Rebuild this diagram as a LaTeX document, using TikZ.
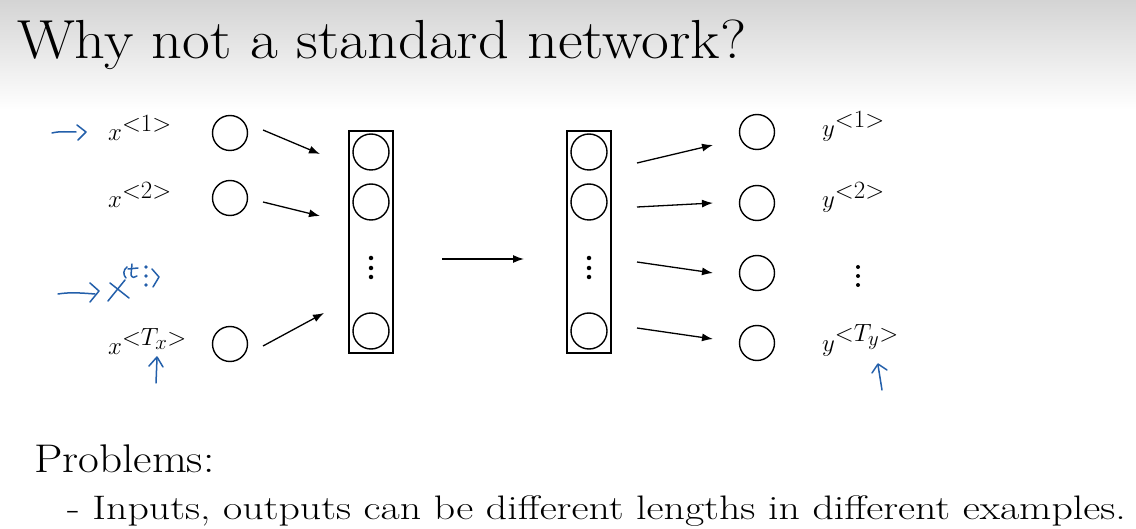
\documentclass[tikz,border=0pt]{standalone}
\usepackage{graphicx}
\usetikzlibrary{arrows.meta}
\DeclareMathSizes{35}{35}{26}{20}
\definecolor{headgray}{RGB}{212,212,212}
\definecolor{ink}{RGB}{35,95,170}
\begin{document}
\begin{tikzpicture}[x=1pt,y=-1pt,
  unit/.style={circle,draw,line width=1.4pt,minimum size=35pt,inner sep=0pt},
  layer/.style={draw,line width=1.6pt},
  conn/.style={line width=1.3pt,-{Latex[length=11pt,width=8pt]}},
  lbl/.style={anchor=base west,inner sep=0pt,font=\fontsize{35}{40}\selectfont},
  hand/.style={draw=ink,line width=1.5pt,line cap=round,line join=round},
  dotv/.style={circle,fill,inner sep=0pt,minimum size=4.5pt}]
\useasboundingbox (0,0) rectangle (1136,529);
\fill[white] (0,0) rectangle (1136,529);
\shade[top color=headgray,bottom color=white] (0,0) rectangle (1136,110);

% title
\node[anchor=base west,inner sep=0pt,font=\fontsize{55}{60}\selectfont] (title) at (17,59) {\scalebox{1.1}[1]{Why not a standard network?}};

% input labels and units
\node[lbl] (x1) at (108,141) {$x^{<1>}$};
\node[lbl] (x2) at (108,208) {$x^{<2>}$};
\node[lbl] (xT) at (108,355) {$x^{<T_x>}$};
\node[unit] (i1) at (230,133) {};
\node[unit] (i2) at (230,198) {};
\node[unit] (i3) at (230,344) {};

% hidden layers
\node[layer,minimum width=44pt,minimum height=222pt,inner sep=0pt] (L) at (371,242) {};
\node[layer,minimum width=44pt,minimum height=222pt,inner sep=0pt] (R) at (589,242) {};
\node[unit,minimum size=36pt] (l1) at (371,152) {};
\node[unit,minimum size=36pt] (l2) at (371,202) {};
\node[unit,minimum size=36pt] (l3) at (371,331) {};
\node[unit,minimum size=36pt] (r1) at (589,152) {};
\node[unit,minimum size=36pt] (r2) at (589,202) {};
\node[unit,minimum size=36pt] (r3) at (589,331) {};
\foreach \yy in {258,268,277}{
  \node[dotv] at (371,\yy) {};
  \node[dotv] at (589,\yy) {};
}

% output units and labels
\node[unit] (o1) at (757,132) {};
\node[unit] (o2) at (757,203) {};
\node[unit] (o3) at (757,273) {};
\node[unit] (o4) at (757,343) {};
\node[lbl] (y1) at (822,137) {$y^{<1>}$};
\node[lbl] (y2) at (822,208) {$y^{<2>}$};
\node[lbl] (yT) at (822,352) {$y^{<T_y>}$};
\foreach \yy in {267,276,285}{\node[dotv,minimum size=4pt] at (858,\yy) {};}

% connectors
\coordinate (a1s) at (263,130); \coordinate (a1e) at (320,154);
\coordinate (a2s) at (263,202); \coordinate (a2e) at (320,216);
\coordinate (a3s) at (263,346); \coordinate (a3e) at (324,313);
\draw[conn] (a1s) -- (a1e);
\draw[conn] (a2s) -- (a2e);
\draw[conn] (a3s) -- (a3e);
\coordinate (ms) at (442,259); \coordinate (me) at (524,259);
\draw[conn] (ms) -- (me);
\coordinate (b1s) at (637,163); \coordinate (b1e) at (713,145);
\coordinate (b2s) at (637,207); \coordinate (b2e) at (713,203);
\coordinate (b3s) at (637,262); \coordinate (b3e) at (713,273);
\coordinate (b4s) at (637,328); \coordinate (b4e) at (713,339);
\draw[conn] (b1s) -- (b1e);
\draw[conn] (b2s) -- (b2e);
\draw[conn] (b3s) -- (b3e);
\draw[conn] (b4s) -- (b4e);

% handwritten notes
\draw[hand] (52,133) .. controls (60,131) and (68,132) .. (76,132);
\draw[hand] (77,125) -- (86,132) -- (78,140);
\draw[hand] (58,294) .. controls (70,292) and (82,293) .. (95,294);
\draw[hand] (90,283) -- (99,291) -- (90,302);
\draw[hand] (110,283) -- (129,298);
\draw[hand] (125,280) -- (108,301);
\draw[hand] (127,267) .. controls (123,270) and (123,275) .. (126,278);
\draw[hand] (132,264) -- (131,275) .. controls (132,278) and (135,278) .. (137,276);
\draw[hand] (128,269) -- (138,268);
\fill[ink] (146,267) circle (1.8pt) (146,276) circle (1.8pt) (146,285) circle (1.8pt);
\draw[hand] (152,269) -- (159,277) -- (153,287);
\draw[hand] (156,383) -- (157,358);
\draw[hand] (149,366) -- (157,357) -- (163,367);
\draw[hand] (882,390) -- (878,365);
\draw[hand] (872,373) -- (878,364) -- (887,370);

% problems text
\node[anchor=base west,inner sep=0pt,font=\fontsize{40}{44}\selectfont] (prob) at (34,472) {\scalebox{1.13}[1]{Problems:}};
\node[anchor=base west,inner sep=0pt,font=\fontsize{34}{40}\selectfont] (item) at (67,519) {\scalebox{1.23}[1]{- Inputs, outputs can be different lengths in different examples.}};
\end{tikzpicture}
\end{document}
